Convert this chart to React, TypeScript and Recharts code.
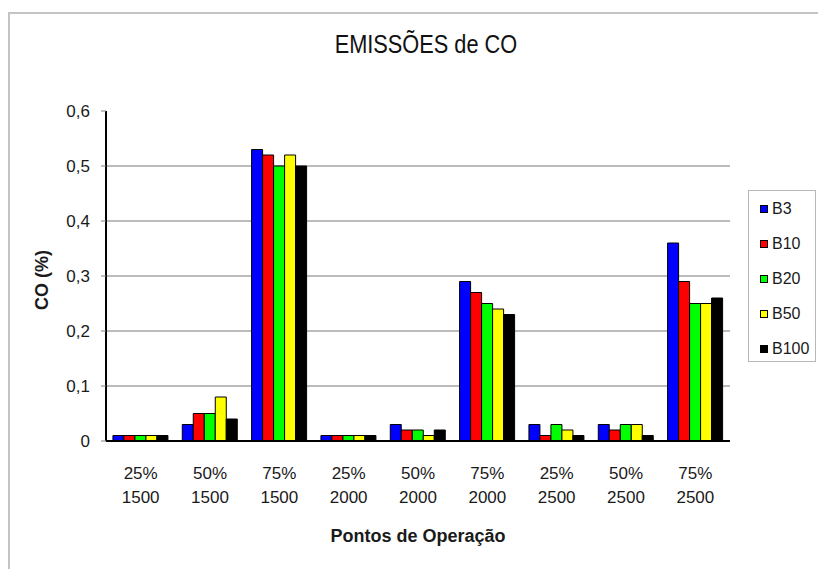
import { BarChart, Bar, XAxis, YAxis, CartesianGrid, Legend, Label } from "recharts";

// operating points: engine load / rotation (rpm)
const LOADS = ["25%", "50%", "75%", "25%", "50%", "75%", "25%", "50%", "75%"];
const RPMS = ["1500", "1500", "1500", "2000", "2000", "2000", "2500", "2500", "2500"];

// CO emissions (%) per blend
const B3 = [0.01, 0.03, 0.53, 0.01, 0.03, 0.29, 0.03, 0.03, 0.36];
const B10 = [0.01, 0.05, 0.52, 0.01, 0.02, 0.27, 0.01, 0.02, 0.29];
const B20 = [0.01, 0.05, 0.5, 0.01, 0.02, 0.25, 0.03, 0.03, 0.25];
const B50 = [0.01, 0.08, 0.52, 0.01, 0.01, 0.24, 0.02, 0.03, 0.25];
const B100 = [0.01, 0.04, 0.5, 0.01, 0.02, 0.23, 0.01, 0.01, 0.26];

const Y_TICKS = [0, 0.1, 0.2, 0.3, 0.4, 0.5, 0.6];
const GRID_VALUES = [0.1, 0.2, 0.3, 0.4, 0.5];

const SERIES = [
  { key: "B3", values: B3, color: "#0000ff" },
  { key: "B10", values: B10, color: "#ff0000" },
  { key: "B20", values: B20, color: "#00ff00" },
  { key: "B50", values: B50, color: "#ffff00" },
  { key: "B100", values: B100, color: "#000000" },
];

const data = LOADS.map((load, i) => {
  const row: Record<string, string | number> = { name: `${load} ${RPMS[i]}` };
  SERIES.forEach((s) => (row[s.key] = s.values[i]));
  return row;
});

// category boundaries, where the tick marks sit
const EDGES = [...LOADS.map((_, i) => i), LOADS.length];

const FONT = "'Liberation Sans', Arial, sans-serif";

function PointTick({ x, y, payload }: any) {
  const [load, rpm] = String(payload.value).split(" ");
  return (
    <g transform={`translate(${x},${y})`}>
      <text textAnchor="middle" fontSize={17} fill="#1a1a1a" fontFamily={FONT}>
        <tspan x={0} y={30}>{load}</tspan>
        <tspan x={0} y={54}>{rpm}</tspan>
      </text>
    </g>
  );
}

function YTitle({ viewBox }: any) {
  const cx = viewBox.x + 22;
  const cy = viewBox.y + viewBox.height / 2 + 4;
  return (
    <text
      x={cx}
      y={cy}
      transform={`rotate(-90 ${cx} ${cy})`}
      textAnchor="middle"
      dominantBaseline="central"
      fontSize={18}
      fontWeight="bold"
      fill="#1a1a1a"
      fontFamily={FONT}
    >
      CO (%)
    </text>
  );
}

function LegendBox() {
  return (
    <div
      style={{
        marginLeft: 18,
        width: 68,
        height: 172,
        boxSizing: "border-box",
        border: "1px solid #b8b8b8",
        background: "#fff",
        fontFamily: FONT,
        fontSize: 16,
        color: "#1a1a1a",
      }}
    >
      {SERIES.map((s) => (
        <div key={s.key} style={{ height: 35, display: "flex", alignItems: "center" }}>
          <span
            style={{
              display: "inline-block",
              width: 8,
              height: 8,
              marginLeft: 11,
              marginRight: 4,
              boxSizing: "border-box",
              border: "1px solid #000",
              background: s.color,
            }}
          />
          <span>{s.key}</span>
        </div>
      ))}
    </div>
  );
}

export default function App() {
  return (
    <div
      style={{
        position: "fixed",
        left: 0,
        top: 0,
        width: 818,
        height: 569,
        overflow: "hidden",
        background: "#fff",
      }}
    >
      <div
        style={{
          position: "absolute",
          left: 8,
          top: 12,
          width: 808,
          height: 555,
          borderLeft: "2px solid #c4c4c4",
          borderTop: "2px solid #c4c4c4",
        }}
      />
      <div style={{ position: "absolute", left: 0, top: 0, width: 818, height: 569 }}>
        <BarChart
          width={818}
          height={569}
          data={data}
          margin={{ top: 111, right: 0, bottom: 20, left: 20 }}
          barCategoryGap="10%"
          barGap={0}
          style={{ fontFamily: FONT }}
        >
          <CartesianGrid
            xAxisId="pts"
            vertical={false}
            stroke="#a6a6a6"
            strokeWidth={1.5}
            horizontalValues={GRID_VALUES}
          />
          <XAxis
            xAxisId="pts"
            dataKey="name"
            interval={0}
            height={100}
            axisLine={false}
            tickLine={false}
            tickSize={0}
            tickMargin={0}
            tick={<PointTick />}
          >
            <Label
              value="Pontos de Operação"
              position="insideBottom"
              offset={7}
              fontSize={18}
              fontWeight="bold"
              fill="#1a1a1a"
              fontFamily={FONT}
            />
          </XAxis>
          <XAxis
            xAxisId="a"
            type="number"
            domain={[0, LOADS.length]}
            ticks={EDGES}
            tick={false}
            tickSize={5}
            height={8}
            allowDataOverflow
            axisLine={{ stroke: "#000", strokeWidth: 2 }}
            tickLine={{ stroke: "#808080" }}
          />
          <YAxis
            domain={[0, 0.6]}
            ticks={Y_TICKS}
            width={86}
            tickSize={5}
            tickMargin={11}
            axisLine={{ stroke: "#000", strokeWidth: 2 }}
            tickLine={{ stroke: "#808080" }}
            tick={{ fontSize: 17, fill: "#1a1a1a", fontFamily: FONT }}
            tickFormatter={(v: number) => (v === 0 ? "0" : v.toFixed(1).replace(".", ","))}
            label={{ content: YTitle }}
          />
          <Legend
            layout="vertical"
            align="right"
            verticalAlign="top"
            width={88}
            content={() => <LegendBox />}
            wrapperStyle={{ top: 190, right: 0, width: 88 }}
          />
          {SERIES.map((s) => (
            <Bar
              key={s.key}
              xAxisId="pts"
              dataKey={s.key}
              fill={s.color}
              stroke="#000"
              strokeWidth={1}
              isAnimationActive={false}
            />
          ))}
        </BarChart>
      </div>
      <div
        style={{
          position: "absolute",
          left: 0,
          top: 30,
          width: 852,
          textAlign: "center",
          fontFamily: FONT,
          fontSize: 25,
          color: "#111",
          lineHeight: "28px",
        }}
      >
        <span style={{ display: "inline-block", transform: "scaleX(0.87)" }}>EMISSÕES de CO</span>
      </div>
    </div>
  );
}
